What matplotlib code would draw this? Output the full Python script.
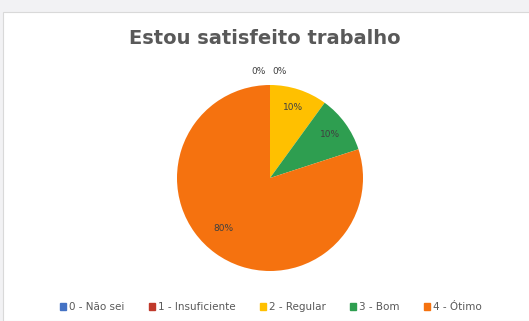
import matplotlib
matplotlib.use("Agg")
import matplotlib.pyplot as plt
from matplotlib.patches import Rectangle
import numpy as np

categories = ["0 - Não sei", "1 - Insuficiente", "2 - Regular", "3 - Bom", "4 - Ótimo"]
values = [0, 0, 10, 10, 80]
colors = ["#4472C4", "#C0392B", "#FFC000", "#2E9E50", "#F5720F"]
title = "Estou satisfeito trabalho"

W, H = 529, 321
fig = plt.figure(figsize=(W / 100, H / 100), dpi=100)
fig.patch.set_facecolor("#f2f2f4")
# white chart area
fig.add_artist(Rectangle((3 / W, 0), 1, (H - 12) / H, transform=fig.transFigure,
                         facecolor="white", edgecolor="#d9d9d9", linewidth=0.8, zorder=-10))

cx, cy, r = 270, 178, 93
ax = fig.add_axes([(cx - r) / W, (H - cy - r) / H, 2 * r / W, 2 * r / H])
ax.set_zorder(5)
ax.patch.set_alpha(0)
wedges, texts, autotexts = ax.pie(values, colors=colors, startangle=90, counterclock=False,
                                  autopct=lambda p: f"{p:.0f}%", pctdistance=0.8,
                                  wedgeprops=dict(linewidth=0),
                                  textprops=dict(fontsize=6.5, color="#404040"))
ax.set_xlim(-1, 1)
ax.set_ylim(-1, 1)
ax.set_aspect("equal")

# reposition zero-value labels outside at top
zero_idx = [i for i, v in enumerate(values) if v == 0]
for k, i in enumerate(zero_idx):
    autotexts[i].set_position((-0.12 + 0.22 * k, 1.14))
# best-fit tweaks for other labels
for i, v in enumerate(values):
    if v == 80:
        autotexts[i].set_position((-0.50, -0.54))
    elif v > 0:
        x, y = autotexts[i].get_position()
        autotexts[i].set_position((x, y))

fig.text(265 / W, 1 - 38 / H, title, ha="center", va="center", fontsize=14,
         fontweight="bold", color="#595959")

handles = [plt.Rectangle((0, 0), 1, 1, color=c) for c in colors]
leg = fig.legend(handles, categories, loc="center", bbox_to_anchor=(271 / W, 1 - 307 / H),
                 ncol=5, frameon=False, fontsize=7.5, handlelength=0.6, handleheight=0.6,
                 handletextpad=0.3, columnspacing=2.3, labelcolor="#595959")

fig.savefig("out.png", dpi=100, facecolor=fig.get_facecolor())
